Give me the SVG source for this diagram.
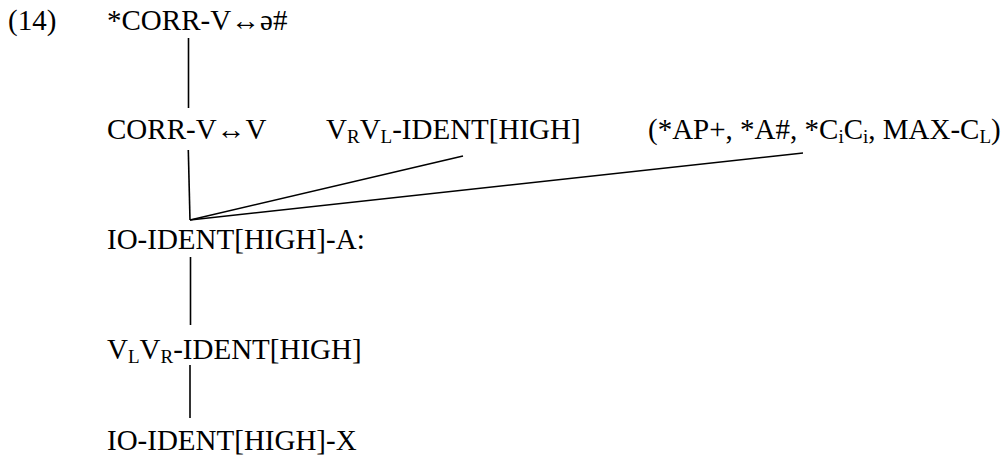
<svg xmlns="http://www.w3.org/2000/svg" width="1008" height="457" viewBox="0 0 1008 457">
<style>
text{font-family:"Liberation Serif","Times New Roman",serif;font-size:29px;fill:#000}
.sub{font-size:19px}
line{stroke:#000;stroke-width:1.6}
</style>
<rect width="1008" height="457" fill="#fff"/>
<g id="label"><text x="8" y="30">(14)</text></g>
<g id="n1"><text x="107" y="30">*CORR-V↔ə#</text></g>
<g id="n2"><text x="107" y="139">CORR-V↔V</text></g>
<g id="n3"><text x="326" y="139">V<tspan class="sub" dy="4">R</tspan><tspan dy="-4">V</tspan><tspan class="sub" dy="4">L</tspan><tspan dy="-4">-IDENT[HIGH]</tspan></text></g>
<g id="n4"><text x="648" y="139">(*AP+, *A#, *C<tspan class="sub" dy="4">i</tspan><tspan dy="-4">C</tspan><tspan class="sub" dy="4">i</tspan><tspan dy="-4">, MAX-C</tspan><tspan class="sub" dy="4">L</tspan><tspan dy="-4">)</tspan></text></g>
<g id="n5"><text x="107" y="249">IO-IDENT[HIGH]-A:</text></g>
<g id="n6"><text x="107" y="359">V<tspan class="sub" dy="4">L</tspan><tspan dy="-4">V</tspan><tspan class="sub" dy="4">R</tspan><tspan dy="-4">-IDENT[HIGH]</tspan></text></g>
<g id="n7"><text x="107" y="450">IO-IDENT[HIGH]-X</text></g>
<g id="connectors">
<line x1="188.5" y1="38" x2="188.5" y2="108"/>
<line x1="188.3" y1="150" x2="190" y2="220"/>
<line x1="463" y1="156" x2="190" y2="220"/>
<line x1="803" y1="153" x2="190" y2="220"/>
<line x1="190.5" y1="257" x2="190.5" y2="325"/>
<line x1="190" y1="365" x2="190" y2="418"/>
</g>
</svg>
